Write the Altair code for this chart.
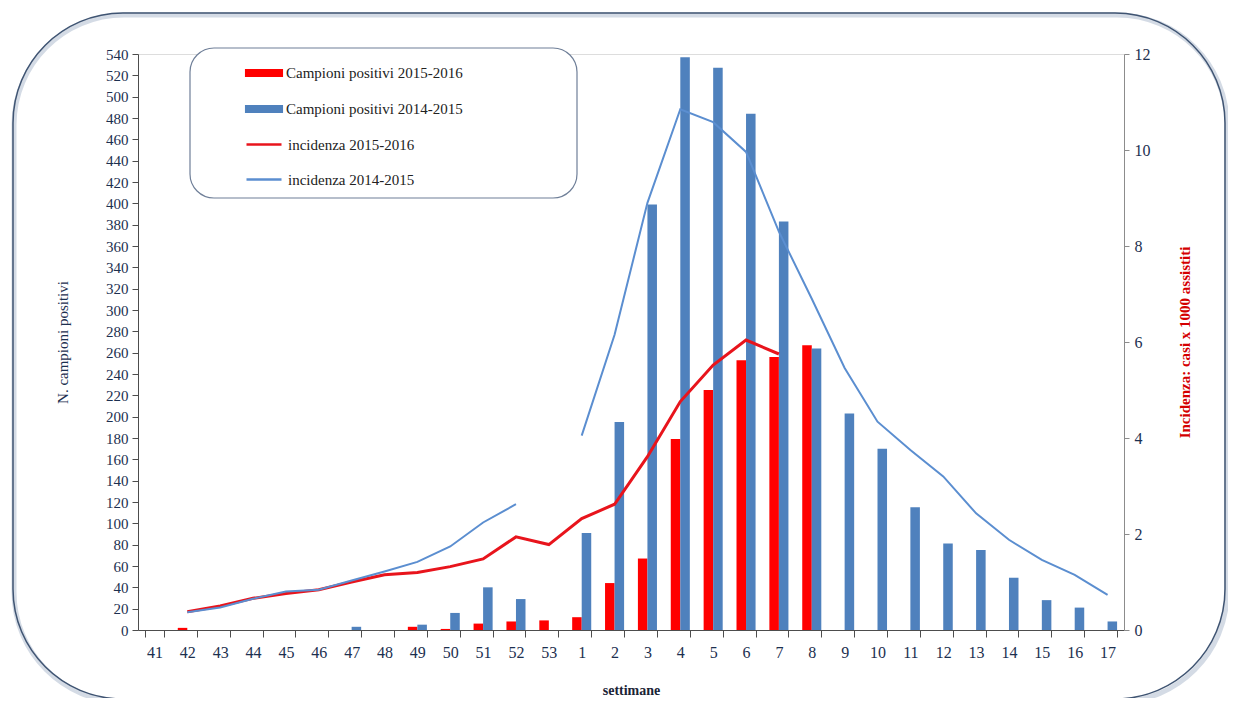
import altair as alt
import pandas as pd

weeks = ["41", "42", "43", "44", "45", "46", "47", "48", "49", "50", "51", "52", "53",
         "1", "2", "3", "4", "5", "6", "7", "8", "9", "10", "11", "12", "13", "14", "15", "16", "17"]

pos_2015_2016 = [None, 2, 0, 0, 0, 0, 0, 0, 3, 1, 6, 8, 9,
                 12, 44, 67, 179, 225, 253, 256, 267, None, None, None, None, None, None, None, None, None]
pos_2014_2015 = [0, 0, 0, 0, 0, 0, 3, 0, 5, 16, 40, 29, None,
                 91, 195, 399, 537, 527, 484, 383, 264, 203, 170, 115, 81, 75, 49, 28, 21, 8]
inc_2015_2016 = [None, 0.38, 0.50, 0.66, 0.76, 0.84, 1.00, 1.15, 1.20, 1.32, 1.48, 1.94, 1.78,
                 2.32, 2.62, 3.61, 4.76, 5.52, 6.04, 5.75, None, None, None, None, None, None, None, None, None, None]
inc_2014_2015 = [None, 0.37, 0.47, 0.65, 0.80, 0.84, 1.03, 1.22, 1.42, 1.74, 2.24, 2.62, None,
                 4.05, 6.15, 8.90, 10.85, 10.58, 9.96, 8.30, 6.90, 5.46, 4.34, 3.75, 3.20, 2.43, 1.88, 1.46, 1.15, 0.73]

S1 = "Campioni positivi 2015-2016"
S2 = "Campioni positivi 2014-2015"
S3 = "incidenza 2015-2016"
S4 = "incidenza 2014-2015"
bar_series = [S1, S2]
bar_colors = ["#ff0000", "#4f81bd"]
line_series = [S3, S4]
line_colors = ["#e8141c", "#5b8ed0"]

bar_rows = []
for w, a, b in zip(weeks, pos_2015_2016, pos_2014_2015):
    if a is not None:
        bar_rows.append({"week": w, "series": S1, "value": a})
    if b is not None:
        bar_rows.append({"week": w, "series": S2, "value": b})
bars_df = pd.DataFrame(bar_rows)

red_rows = [{"week": w, "series": S3, "value": v, "seg": "a"}
            for w, v in zip(weeks, inc_2015_2016) if v is not None]
blue_rows = []
for i, (w, v) in enumerate(zip(weeks, inc_2014_2015)):
    if v is not None:
        blue_rows.append({"week": w, "series": S4, "value": v, "seg": "a" if i < 13 else "b"})
red_df = pd.DataFrame(red_rows)
blue_df = pd.DataFrame(blue_rows)

FONT = "Liberation Serif"
NAVY = "#1c2f4f"

legend_bars = alt.Legend(
    title=None, orient="none", legendX=111, legendY=4, direction="vertical",
    padding=0, labelFont=FONT, labelFontSize=15, labelColor="#222222", labelLimit=400,
    symbolType="M-1.27,-0.27L1.27,-0.27L1.27,0.27L-1.27,0.27Z",
    symbolSize=900, rowPadding=13, labelOffset=7, symbolStrokeWidth=0, symbolOpacity=1,
)
legend_lines = alt.Legend(
    title=None, orient="none", legendX=107, legendY=71.5, direction="vertical",
    padding=0, labelFont=FONT, labelFontSize=15, labelColor="#222222", labelLimit=400,
    symbolType="stroke", symbolSize=1225, symbolStrokeWidth=2.6, rowPadding=8, labelOffset=5,
)

x_enc = alt.X(
    "week:N",
    scale=alt.Scale(domain=weeks, paddingInner=0.42, paddingOuter=0.21),
    axis=alt.Axis(title="settimane", labelAngle=0, tickBand="extent", tickSize=7,
                  labelPadding=7, labelFontSize=16, labelColor=NAVY, labelFont=FONT,
                  domainColor="#4d4d4d", tickColor="#4d4d4d",
                  titleFont=FONT, titleFontSize=14, titleFontWeight="bold", titleColor="#1a2436",
                  titleY=60, titleBaseline="middle"),
)

bars = alt.Chart(bars_df).mark_bar().encode(
    x=x_enc,
    xOffset=alt.XOffset("series:N", scale=alt.Scale(domain=bar_series, paddingInner=0, paddingOuter=0)),
    y=alt.Y("value:Q", scale=alt.Scale(domain=[0, 540], nice=False),
            axis=alt.Axis(values=list(range(0, 541, 20)), title="N. campioni positivi", grid=False,
                          tickSize=6, labelPadding=4, labelFontSize=15, labelColor=NAVY, labelFont=FONT,
                          domainColor="#4d4d4d", tickColor="#4d4d4d",
                          titleFont=FONT, titleFontSize=15, titleFontWeight="normal", titleColor=NAVY,
                          titleX=-76, titleY=288, titleBaseline="middle")),
    color=alt.Color("series:N", scale=alt.Scale(domain=bar_series, range=bar_colors), legend=legend_bars),
)

y_right = alt.Y("value:Q", scale=alt.Scale(domain=[0, 12], nice=False),
                axis=alt.Axis(orient="right", values=[0, 2, 4, 6, 8, 10, 12], grid=False,
                              title="Incidenza: casi x 1000 assistiti",
                              tickSize=5, labelPadding=5, labelFontSize=16, labelColor=NAVY, labelFont=FONT,
                              domainColor="#8c8c8c", tickColor="#8c8c8c",
                              titleFont=FONT, titleFontSize=15, titleFontWeight="bold", titleColor="#d40000",
                              titleAngle=270, titleX=60, titleY=288, titleBaseline="middle"))

stroke_enc = alt.Stroke("series:N", scale=alt.Scale(domain=line_series, range=line_colors), legend=legend_lines)

red_line = alt.Chart(red_df).mark_line(strokeWidth=3).encode(
    x=x_enc, y=y_right, stroke=stroke_enc, detail="seg:N",
)
blue_line = alt.Chart(blue_df).mark_line(strokeWidth=2).encode(
    x=x_enc, y=y_right, stroke=stroke_enc, detail="seg:N",
)
lines = alt.layer(red_line, blue_line)

frame_df = pd.DataFrame({"k": [0]})
frame_shadow = alt.Chart(frame_df).mark_rect(
    fill="transparent", stroke="#c3cddb", strokeWidth=5, cornerRadius=110, opacity=0.7
).encode(x=alt.value(-124), x2=alt.value(1089), y=alt.value(-39), y2=alt.value(648))
frame = alt.Chart(frame_df).mark_rect(
    fill="transparent", stroke="#3f5472", strokeWidth=1.5, cornerRadius=110
).encode(x=alt.value(-125), x2=alt.value(1087), y=alt.value(-41), y2=alt.value(645))
legend_box = alt.Chart(frame_df).mark_rect(
    fill="white", stroke="#6f7f98", strokeWidth=1.2, cornerRadius=24
).encode(x=alt.value(52), x2=alt.value(439), y=alt.value(-6), y2=alt.value(144))

chart = alt.layer(frame_shadow, frame, legend_box, bars, lines).resolve_scale(y="independent").properties(
    width=986, height=576,
    padding={"left": 130, "top": 46, "right": 104, "bottom": 68},
    autosize=alt.AutoSizeParams(type="none"),
).configure_view(stroke=None).configure(font=FONT, background="white")

chart.save("out.html", embed_options={"renderer": "svg", "actions": False})
